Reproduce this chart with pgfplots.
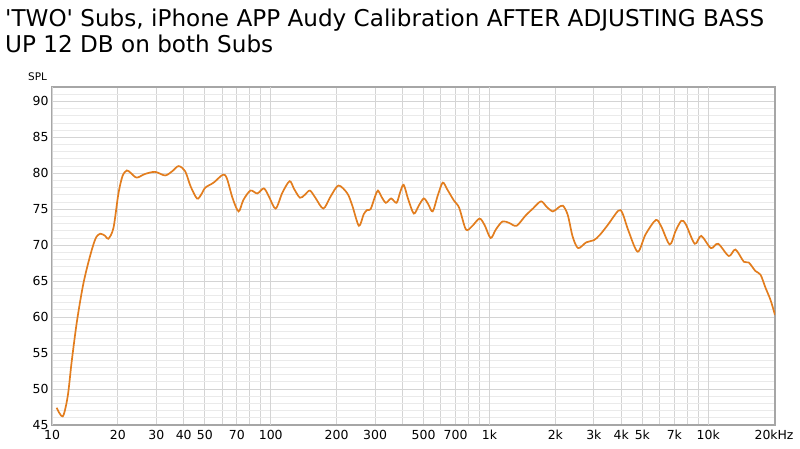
\documentclass[border=0pt]{standalone}
\usepackage{fontspec}
\setmainfont{DejaVu Sans}
\usepackage{pgfplots}
\pgfplotsset{compat=1.18}
\definecolor{curve}{RGB}{226,125,30}
\definecolor{gridminor}{RGB}{234,234,234}
\definecolor{gridmid}{RGB}{212,212,212}
\definecolor{griddec}{RGB}{180,180,180}
\pgfplotstableread{
f db
10.5 47.4
11.2 46.2
11.8 49.0
12.3 53.8
13.0 59.4
13.9 64.6
14.9 68.4
15.8 70.9
16.6 71.6
17.5 71.3
18.1 70.9
19.1 72.4
20.1 77.1
21.0 79.6
22.0 80.4
23.0 80.0
24.4 79.4
26.6 79.9
29.6 80.2
32.9 79.7
35.5 80.3
37.9 81.0
40.6 80.3
43 78.2
46.0 76.5
48 77.0
50.2 78.0
54.8 78.7
60.4 79.8
63 79.3
67 76.5
71.3 74.7
75 76.3
80.8 77.6
86.8 77.2
93.0 77.9
98 76.8
105.3 75.1
113 77.3
122 78.9
128 77.8
136 76.6
143 77.0
151 77.6
160 76.6
174 75.1
188 76.8
204 78.3
224 77.2
236 75.5
253 72.7
266 74.3
276 74.9
286 75.0
300 76.8
309 77.6
320 76.8
336 75.9
355 76.5
376 75.9
390 77.3
405 78.4
425 76.4
451 74.4
475 75.5
501 76.5
525 75.7
550 74.7
580 76.9
611 78.7
640 77.8
688 76.2
727 75.2
780 72.2
830 72.6
900 73.7
950 72.8
1012 71.0
1070 72.2
1147 73.3
1230 73.1
1330 72.7
1460 74.1
1580 75.1
1720 76.1
1830 75.3
1950 74.7
2060 75.2
2165 75.5
2280 74.2
2400 71.2
2542 69.6
2770 70.4
3000 70.7
3189 71.4
3490 72.9
3880 74.8
4050 74.5
4320 72.0
4760 69.1
5170 71.5
5760 73.5
6100 72.6
6670 70.1
7100 72.0
7540 73.4
7900 72.9
8680 70.2
9290 71.3
10280 69.6
11100 70.2
12420 68.5
13320 69.4
14550 67.7
15320 67.6
16450 66.4
17340 65.9
18270 64.1
19260 62.4
20200 60.3
}\spl
\begin{document}
\begin{tikzpicture}
\path[use as bounding box] (0bp,0bp) rectangle (800bp,449bp);
\node[anchor=base west, inner sep=0pt, font=\fontsize{23.2}{23.2}\selectfont] at (5bp,422bp) {\textquotesingle TWO\textquotesingle{} Subs, iPhone APP Audy Calibration AFTER ADJUSTING BASS};
\node[anchor=base west, inner sep=0pt, font=\fontsize{23.2}{23.2}\selectfont] at (5bp,396bp) {UP 12 DB on both Subs};
\node[anchor=center, inner sep=0pt, font=\fontsize{10.5}{10.5}\selectfont] at (37.5bp,372.3bp) {SPL};
\begin{axis}[
  at={(52bp,24bp)}, anchor=south west,
  scale only axis, width=723bp, height=338bp,
  xmode=log, xmin=10, xmax=20200, ymin=45, ymax=92,
  log basis x=10,
  xtick={10,20,30,40,50,60,70,80,90,100,200,300,400,500,600,700,800,900,1000,2000,3000,4000,5000,6000,7000,8000,9000,10000,20000},
  xticklabels={10,20,30,40,50,,70,,,100,200,300,,500,,700,,,1k,2k,3k,4k,5k,,7k,,,10k,20kHz},
  extra x ticks={10,100,1000,10000},
  extra x tick labels={},
  extra x tick style={grid style={draw=griddec, line width=1.1pt}},
  ytick={45,50,...,90},
  minor ytick={46,47,...,92},
  grid=both,
  major grid style={draw=gridmid, line width=1pt},
  minor grid style={draw=gridminor, line width=0.9pt},
  major tick length=0pt, minor tick length=0pt,
  axis line style={draw=gray!70, line width=1.6pt},
  tick label style={font=\fontsize{12.5}{12.5}\selectfont},
  xticklabel style={yshift=-2bp},
  /pgf/number format/assume math mode=true,
  log ticks with fixed point,
]
\addplot[curve, line width=1.7pt, smooth, tension=0.5] table[x=f, y=db] {\spl};
\end{axis}
\end{tikzpicture}
\end{document}
